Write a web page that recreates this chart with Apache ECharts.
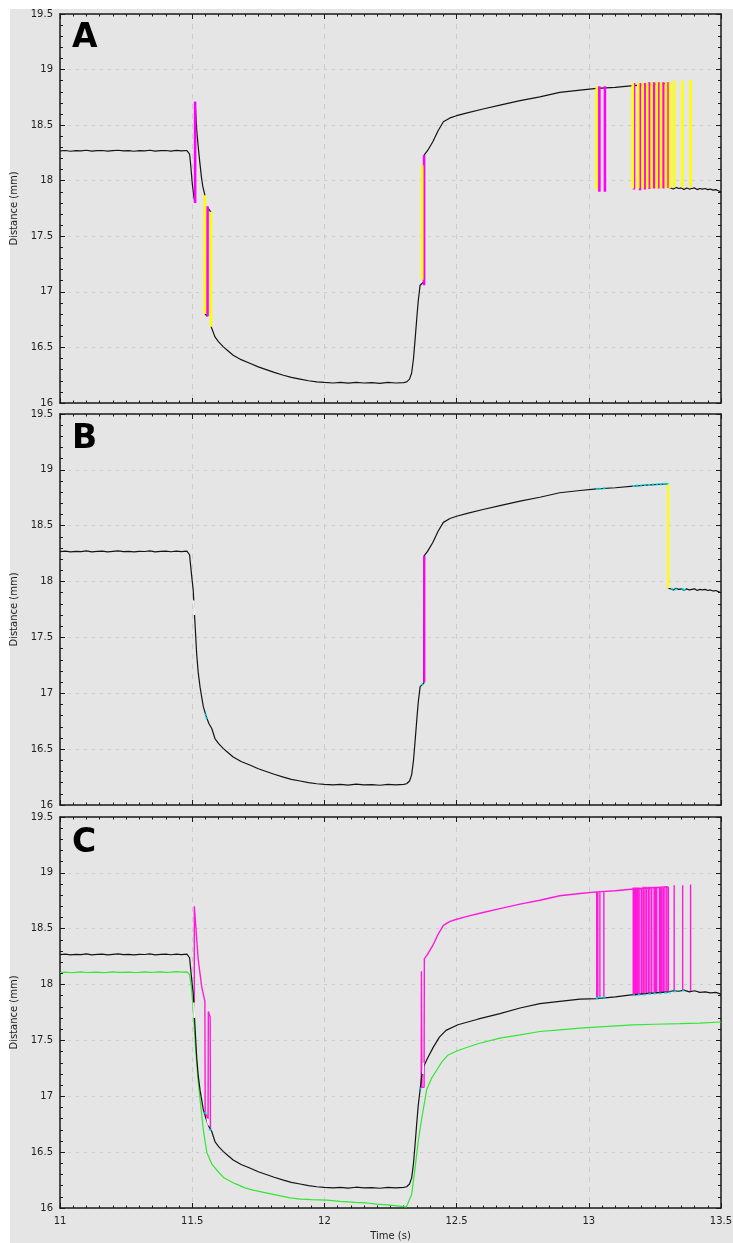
<!DOCTYPE html>
<html><head><meta charset="utf-8">
<script src="https://cdn.jsdelivr.net/npm/echarts@6/dist/echarts.min.js"></script>
<style>
html,body{margin:0;padding:0;background:#fff;}
#bg{position:absolute;left:10px;top:9px;width:723px;height:1234px;background:#e5e5e5;}
#chart{position:absolute;left:0;top:0;width:733px;height:1243px;}
</style></head><body>
<div id="bg"></div><div id="chart"></div>
<script>
// ---- data (time in s, distance in mm) ----
const panelLetters = ['A', 'B', 'C'];
const xTicks = [11, 11.5, 12, 12.5, 13, 13.5];
const yTicks = [16, 16.5, 17, 17.5, 18, 18.5, 19, 19.5];

const preT = [11.00,11.02,11.04,11.06,11.08,11.10,11.12,11.14,11.16,11.18,11.20,11.22,11.24,11.26,11.28,11.30,11.32,11.34,11.36,11.38,11.40,11.42,11.44,11.46,11.48,11.487];
const preV = [18.268,18.272,18.265,18.27,18.268,18.274,18.266,18.27,18.272,18.266,18.27,18.274,18.268,18.27,18.265,18.271,18.269,18.274,18.266,18.27,18.272,18.267,18.273,18.268,18.272,18.27];
const greenPreV = [18.108,18.112,18.106,18.11,18.113,18.108,18.11,18.112,18.107,18.11,18.114,18.109,18.11,18.112,18.108,18.11,18.113,18.109,18.111,18.114,18.11,18.112,18.116,18.112,18.114,18.11];

// true descent (B, C)
const dropBT = [11.490,11.493,11.498,11.504,11.507,11.510,11.517,11.523,11.530,11.542,11.552,11.563];
const dropBV = [18.24,18.17,18.05,17.92,17.78,17.65,17.35,17.18,17.05,16.88,16.80,16.73];
// descent with bounces (A)
const dropAT = [11.490,11.494,11.500,11.506,11.510,11.511,11.517,11.523,11.529,11.535,11.540,11.548,11.549,11.557,11.558,11.564,11.570,11.571];
const dropAV = [18.24,18.15,17.98,17.86,17.80,18.71,18.46,18.30,18.16,18.03,17.95,17.87,16.80,16.78,17.76,17.74,17.72,16.69];

const lowT = [11.574,11.586,11.60,11.618,11.635,11.655,11.685,11.72,11.75,11.78,11.81,11.845,11.875,11.908,11.94,11.971,12.00,12.034,12.06,12.09,12.12,12.15,12.18,12.21,12.24,12.27,12.30,12.311,12.322,12.330,12.337,12.343,12.350,12.355,12.362];
const lowV = [16.685,16.595,16.55,16.505,16.47,16.43,16.39,16.356,16.325,16.30,16.275,16.25,16.23,16.215,16.20,16.19,16.185,16.18,16.185,16.178,16.186,16.18,16.183,16.177,16.185,16.18,16.184,16.19,16.215,16.27,16.40,16.57,16.78,16.92,17.06];

const jumpT = [12.376, 12.377];
const jumpV = [17.09, 18.23];

const upT = [12.378,12.39,12.41,12.43,12.45,12.475,12.50,12.54,12.60,12.664,12.74,12.815,12.89,12.967,13.03,13.10,13.168,13.23,13.299];
const upV = [18.23,18.27,18.35,18.45,18.53,18.565,18.585,18.61,18.645,18.68,18.72,18.755,18.795,18.815,18.83,18.84,18.855,18.865,18.875];

const tailT = [13.301,13.31,13.32,13.33,13.34,13.35,13.36,13.37,13.38,13.39,13.40,13.41,13.42,13.43,13.44,13.45,13.46,13.47,13.48,13.49,13.50];
const tailV = [17.94,17.935,17.925,17.94,17.93,17.935,17.92,17.935,17.925,17.93,17.935,17.92,17.93,17.925,17.93,17.92,17.925,17.915,17.92,17.91,17.90];

// C black after 12.37 (lower path)
const cT = [12.368,12.374,12.39,12.412,12.435,12.46,12.505,12.58,12.664,12.74,12.815,12.89,12.967,13.03,13.10,13.168,13.25,13.30,13.32,13.34,13.36,13.38,13.40,13.42,13.44,13.46,13.48,13.50];
const cV = [17.18,17.26,17.34,17.44,17.53,17.59,17.64,17.69,17.74,17.79,17.83,17.85,17.87,17.875,17.89,17.91,17.925,17.935,17.945,17.94,17.95,17.935,17.945,17.93,17.935,17.925,17.93,17.915];

// C green
const greenT = [11.490,11.497,11.504,11.512,11.522,11.532,11.542,11.555,11.575,11.60,11.62,11.66,11.70,11.73,11.77,11.82,11.87,11.91,11.95,12.01,12.06,12.116,12.16,12.20,12.25,12.29,12.31,12.33,12.345,12.355,12.368,12.387,12.405,12.425,12.445,12.468,12.505,12.58,12.664,12.74,12.815,12.89,12.967,13.07,13.168,13.25,13.345,13.42,13.50];
const greenV = [18.09,17.98,17.77,17.45,17.15,16.92,16.70,16.50,16.39,16.32,16.27,16.22,16.18,16.16,16.14,16.115,16.09,16.08,16.075,16.07,16.06,16.05,16.045,16.035,16.025,16.015,16.01,16.12,16.40,16.60,16.80,17.06,17.16,17.235,17.31,17.37,17.41,17.47,17.52,17.55,17.58,17.595,17.61,17.625,17.64,17.645,17.65,17.655,17.665];

// A spikes
const aMagT = [11.511,11.558,12.377,13.040,13.061,13.171,13.194,13.212,13.229,13.247,13.264,13.282,13.300];
const aMagTop = [18.71,17.77,18.23,18.85,18.85,18.88,18.88,18.88,18.885,18.885,18.885,18.885,18.885];
const aMagBot = [17.80,16.78,17.06,17.90,17.90,17.92,17.915,17.92,17.925,17.93,17.93,17.93,17.935];
const aYelT = [11.548,11.571,12.370,13.030,13.166,13.187,13.204,13.221,13.238,13.257,13.273,13.292,13.307,13.323,13.354,13.385];
const aYelTop = [17.87,17.72,18.14,18.85,18.88,18.88,18.88,18.88,18.885,18.885,18.885,18.885,18.885,18.90,18.90,18.905];
const aYelBot = [16.80,16.685,17.11,17.92,17.93,17.93,17.93,17.93,17.93,17.93,17.93,17.93,17.935,17.94,17.94,17.94];

// B spikes
const bMagT = [12.378], bMagTop = [18.23], bMagBot = [17.10];
const bYelT = [13.300], bYelTop = [18.875], bYelBot = [17.94];

// C magenta path
const cMag1T = [11.508,11.508,11.523,11.536,11.548,11.549,11.560,11.561,11.568,11.569];
const cMag1V = [17.80,18.70,18.22,17.98,17.85,16.85,16.80,17.76,17.71,16.70];
const cMag2T = [12.360,12.366,12.367,12.369,12.377];
const cMag2V = [17.06,17.08,18.12,17.08,17.08];
const cSpT = [13.030,13.034,13.042,13.057,13.168,13.172,13.177,13.182,13.187,13.193,13.200,13.206,13.212,13.218,13.225,13.231,13.238,13.247,13.252,13.257,13.267,13.272,13.276,13.282,13.288,13.295,13.301,13.323,13.355,13.385];
const cSpTop = [18.83,18.83,18.83,18.83,18.87,18.87,18.87,18.87,18.87,18.87,18.87,18.875,18.875,18.875,18.875,18.875,18.875,18.875,18.875,18.875,18.875,18.875,18.875,18.875,18.875,18.875,18.875,18.89,18.89,18.895];
const cSpBot = [17.88,17.88,17.88,17.88,17.90,17.90,17.90,17.905,17.905,17.91,17.91,17.91,17.91,17.915,17.915,17.915,17.915,17.92,17.92,17.92,17.92,17.92,17.925,17.925,17.925,17.93,17.93,17.94,17.95,17.94];

// markers
const bCyanT = [11.551,11.554,12.369,13.032,13.042,13.058,13.17,13.183,13.197,13.212,13.228,13.243,13.258,13.272,13.286,13.296,13.315,13.33,13.355,13.362];
const bCyanV = [16.81,16.78,17.08,18.83,18.83,18.835,18.855,18.86,18.86,18.865,18.865,18.87,18.87,18.87,18.875,18.875,17.935,17.93,17.935,17.925];
const cCyanT = [11.550,11.567,12.362,13.031,13.043,13.058,13.17,13.19,13.21,13.23,13.25,13.27,13.29,13.305,13.325,13.357];
const cCyanV = [16.85,16.70,17.07,17.88,17.885,17.885,17.905,17.91,17.91,17.915,17.92,17.92,17.925,17.93,17.94,17.945];
const bWhiteT = [11.506,11.508], bWhiteV = [17.83,17.70];
const cWhiteT = [11.506,11.508,11.556,11.562,12.372,12.375];
const cWhiteV = [17.84,17.70,16.80,16.74,17.20,17.30];

// ---- helpers ----
const P = (t, v) => t.map((x, i) => [x, v[i]]);
const SP = (t, top, bot) => t.flatMap((x, i) => [[x, top[i]], [x, bot[i]], [x, '-']]);
const SEG = (t, v) => { const o = []; for (let i = 0; i < t.length; i += 2) { o.push([t[i], v[i]], [t[i+1], v[i+1]], [t[i+1], '-']); } return o; };

const FONT = 'DejaVu Sans';
const AX = '#1a1a1a';
const GRIDC = '#cdcdcd';
const gridTops = [14, 414, 817];
const gridHeights = [389, 391, 391];
const letterY = [38, 439, 843];

const grids = gridTops.map((t, i) => ({left: 60, top: t, width: 661, height: gridHeights[i], outerBoundsMode: 'none', containLabel: false, show: false}));

const xAxes = [], yAxes = [];
function xAx(i, pos) {
  const lab = (i === 2 && pos === 'bottom');
  return {type: 'value', gridIndex: i, position: pos, min: xTicks[0], max: xTicks[xTicks.length-1], interval: 0.5,
    axisLine: {show: true, onZero: false, lineStyle: {color: AX, width: 1.5}},
    axisTick: {show: true, inside: true, length: 5, lineStyle: {color: AX, width: 1}},
    minorTick: {show: true, splitNumber: 10, length: 2.5, lineStyle: {color: AX, width: 1}},
    splitLine: {show: pos === 'bottom', lineStyle: {color: GRIDC, type: [5, 5], width: 1}},
    minorSplitLine: {show: false},
    axisLabel: {show: lab, color: '#222', fontFamily: FONT, fontSize: 10, margin: 8, showMinLabel: true, showMaxLabel: true, hideOverlap: false},
    name: lab ? 'Time (s)' : '', nameLocation: 'middle', nameGap: 23,
    nameTextStyle: {color: '#222', fontFamily: FONT, fontSize: 10}
  };
}
function yAx(i, pos) {
  const lab = pos === 'left';
  return {type: 'value', gridIndex: i, position: pos, min: yTicks[0], max: yTicks[yTicks.length-1], interval: 0.5,
    axisLine: {show: true, onZero: false, lineStyle: {color: AX, width: 1.5}},
    axisTick: {show: true, inside: true, length: 5, lineStyle: {color: AX, width: 1}},
    minorTick: {show: true, splitNumber: 5, length: 3, lineStyle: {color: AX, width: 1}},
    splitLine: {show: lab, lineStyle: {color: GRIDC, type: [3, 5], width: 1}},
    minorSplitLine: {show: false},
    axisLabel: {show: lab, color: '#222', fontFamily: FONT, fontSize: 10, margin: 7, showMinLabel: true, showMaxLabel: true, hideOverlap: false},
    name: lab ? 'Distance (mm)' : '', nameLocation: 'middle', nameGap: 40, nameRotate: 90,
    nameTextStyle: {color: '#222', fontFamily: FONT, fontSize: 10}
  };
}
for (let i = 0; i < 3; i++) { xAxes.push(xAx(i, 'bottom')); yAxes.push(yAx(i, 'left')); }
for (let i = 0; i < 3; i++) { xAxes.push(xAx(i, 'top')); yAxes.push(yAx(i, 'right')); }

const series = [];
function line(gi, data, color, width, z) {
  series.push({type: 'line', xAxisIndex: gi, yAxisIndex: gi, data, symbol: 'none', showSymbol: false,
    connectNulls: false, lineStyle: {color, width}, z, silent: true, animation: false});
}
function dots(gi, data, color, size, z) {
  series.push({type: 'scatter', xAxisIndex: gi, yAxisIndex: gi, data, symbol: 'rect', symbolSize: size,
    itemStyle: {color}, z, silent: true, animation: false});
}
const BLACK = '#141414', MAG = '#ff00ff', YEL = '#ffff00', CMAG = '#ff1ad9', GREEN = '#33e633', CYAN = '#00e8f0';

// Panel A
line(0, [...P(preT, preV), ...P(dropAT, dropAV), ...P(lowT, lowV), ...P(jumpT, jumpV), ...P(upT, upV), ...P(tailT, tailV)], BLACK, 1.2, 2);
line(0, SP(aMagT, aMagTop, aMagBot), MAG, 2.6, 3);
line(0, SP(aYelT, aYelTop, aYelBot), YEL, 2.6, 4);

// Panel B
line(1, [...P(preT, preV), ...P(dropBT, dropBV), ...P(lowT, lowV), ...P(jumpT, jumpV), ...P(upT, upV), ...P(tailT, tailV)], BLACK, 1.2, 2);
line(1, SP(bMagT, bMagTop, bMagBot), MAG, 2.2, 3);
line(1, SP(bYelT, bYelTop, bYelBot), YEL, 2.2, 3);
line(1, SEG(bWhiteT, bWhiteV), '#ffffff', 1.6, 5);
dots(1, P(bCyanT, bCyanV), CYAN, [2.5, 2], 6);

// Panel C
line(2, [...P(preT, greenPreV), ...P(greenT, greenV)], GREEN, 1.2, 2);
line(2, [...P(cMag1T, cMag1V), [11.569, '-'], ...P(cMag2T, cMag2V), ...P(upT, upV), [13.299, '-'], ...SP(cSpT, cSpTop, cSpBot)], CMAG, 1.4, 3);
line(2, [...P(preT, preV), ...P(dropBT, dropBV), ...P(lowT, lowV), ...P(cT, cV)], BLACK, 1.2, 4);
line(2, SEG(cWhiteT, cWhiteV), '#ffffff', 1.6, 5);
dots(2, P(cCyanT, cCyanV), CYAN, [2.5, 2], 6);

const graphic = panelLetters.map((L, i) => ({type: 'text', x: 72, y: letterY[i], z: 100,
  style: {text: L, font: 'bold 33px "DejaVu Sans"', fill: '#000', align: 'left', verticalAlign: 'middle'}}));

const chart = echarts.init(document.getElementById('chart'), null, {renderer: 'canvas'});
chart.setOption({animation: false, backgroundColor: 'transparent', grid: grids, xAxis: xAxes, yAxis: yAxes, series, graphic});
</script></body></html>
